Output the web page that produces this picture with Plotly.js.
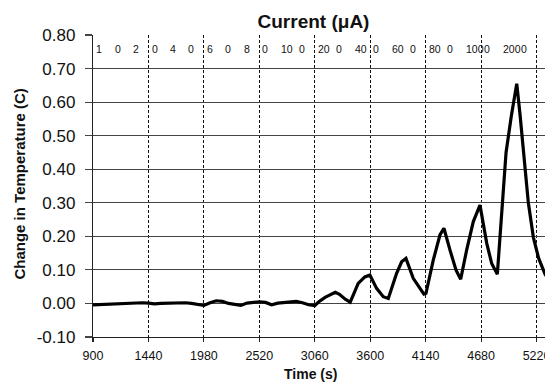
<!DOCTYPE html>
<html>
<head>
<meta charset="utf-8">
<script src="https://cdn.plot.ly/plotly-3.0.1.min.js"></script>
<style>
html,body{margin:0;padding:0;overflow:hidden;background:#fff;}
#chart{width:600px;height:383px;}
</style>
</head>
<body>
<div id="chart"></div>
<script>
// Time (s)
const timeS = [
  900, 960, 1020, 1080, 1140, 1200, 1260, 1320, 1380, 1440,
  1500, 1560, 1620, 1680, 1740, 1800, 1860, 1920, 1980, 2040,
  2100, 2160, 2220, 2280, 2340, 2400, 2460, 2520, 2580, 2640,
  2700, 2760, 2820, 2880, 2940, 3000, 3060,
  3100, 3160, 3220, 3260, 3300, 3360, 3405,
  3483, 3548, 3597, 3662, 3727, 3776,
  3857, 3906, 3948, 4019, 4084, 4123,
  4143, 4214, 4279, 4318, 4377, 4436, 4481,
  4539, 4604, 4669, 4735, 4783, 4838,
  4880, 4923, 4975, 5027, 5060, 5098, 5140, 5189, 5240, 5303, 5340
];
// Change in temperature (C)
const deltaT = [
  -0.004, -0.003, -0.002, -0.003, -0.001, 0.000, 0.001, 0.001, 0.002, 0.001,
  -0.001, 0.000, 0.001, 0.000, 0.001, 0.002, 0.000, -0.004, -0.006, 0.002,
  0.008, 0.006, 0.000, -0.003, -0.006, 0.001, 0.004, 0.005, 0.003, -0.004,
  0.001, 0.003, 0.004, 0.006, 0.002, -0.004, -0.006,
  0.005, 0.018, 0.028, 0.033, 0.027, 0.012, 0.004,
  0.060, 0.079, 0.085, 0.045, 0.020, 0.015,
  0.090, 0.124, 0.134, 0.075, 0.045, 0.028,
  0.030, 0.129, 0.204, 0.224, 0.159, 0.099, 0.072,
  0.159, 0.244, 0.293, 0.179, 0.119, 0.087,
  0.260, 0.450, 0.560, 0.655, 0.560, 0.430, 0.300, 0.197, 0.135, 0.087, 0.070
];
// Current step labels (µA) along the top, one per 180 s step
const currentLabels = ['1','0','2','0','4','0','6','0','8','0','10','0',
                       '20','0','40','0','60','0','80','0','100','0','200','0'];
const currentStepTimes = [900,1080,1260,1440,1620,1800,1980,2160,2340,2520,2700,2880,
                          3060,3240,3420,3600,3780,3960,4140,4320,4500,4680,4860,5040];
const xTickVals = [900,1440,1980,2520,3060,3600,4140,4680,5220,5760];
const yTickVals = [-0.1,0,0.1,0.2,0.3,0.4,0.5,0.6,0.7,0.8];

const sans = '"Liberation Sans", Arial, sans-serif';

const annotations = currentLabels.map((lab, i) => ({
  x: currentStepTimes[i] + 20, xref: 'x', xanchor: 'left',
  y: 0.757, yref: 'y', yanchor: 'middle',
  text: lab, showarrow: false, borderpad: 0,
  font: {family: sans, size: 10.5, color: '#111'}
}));
annotations.push({
  x: 0.4356, xref: 'paper', xanchor: 'center',
  y: -0.1234, yref: 'paper', yanchor: 'middle',
  text: '<b>Time (s)</b>', showarrow: false,
  font: {family: sans, size: 14, color: '#111'}
});
annotations.push({
  x: -0.147, xref: 'paper', xanchor: 'center',
  y: 0.5068, yref: 'paper', yanchor: 'middle',
  text: '<b>Change in Temperature (C)</b>', textangle: -90, showarrow: false,
  font: {family: sans, size: 15, color: '#111'}
});

const data = [{
  x: timeS, y: deltaT, type: 'scatter', mode: 'lines',
  line: {color: '#000', width: 3.2, shape: 'linear'},
  hoverinfo: 'skip'
}];

const layout = {
  width: 600, height: 383,
  margin: {l: 93, r: 8, t: 35, b: 46, pad: 0},
  paper_bgcolor: '#fff', plot_bgcolor: '#fff',
  showlegend: false,
  title: {
    text: '<b>Current (\u03bcA)</b>',
    xref: 'container', x: 0.5225, xanchor: 'center',
    yref: 'container', y: 1 - 21/383, yanchor: 'middle',
    font: {family: sans, size: 19, color: '#111'}
  },
  xaxis: {
    range: [900, 5760], tickvals: xTickVals,
    ticktext: xTickVals.map(String),
    showgrid: true, gridcolor: '#111', gridwidth: 1.2, griddash: '3px,2px',
    showline: true, linecolor: '#222', linewidth: 1.2, mirror: false,
    ticks: 'outside', ticklen: 4, tickcolor: '#222', tickwidth: 1.2,
    ticklabelstandoff: 3,
    tickfont: {family: sans, size: 12.5, color: '#111'},
    zeroline: false, fixedrange: true
  },
  yaxis: {
    range: [-0.1, 0.8], tickvals: yTickVals,
    ticktext: yTickVals.map(v => v.toFixed(2)),
    showgrid: true, gridcolor: '#444', gridwidth: 1.2,
    showline: true, linecolor: '#222', linewidth: 1.2, mirror: false,
    ticks: 'outside', ticklen: 7, tickcolor: '#444', tickwidth: 1.2,
    ticklabelstandoff: 6,
    tickfont: {family: sans, size: 17, color: '#111'},
    zeroline: false, fixedrange: true
  },
  annotations: annotations
};

Plotly.newPlot('chart', data, layout, {staticPlot: true, displayModeBar: false});
</script>
</body>
</html>
